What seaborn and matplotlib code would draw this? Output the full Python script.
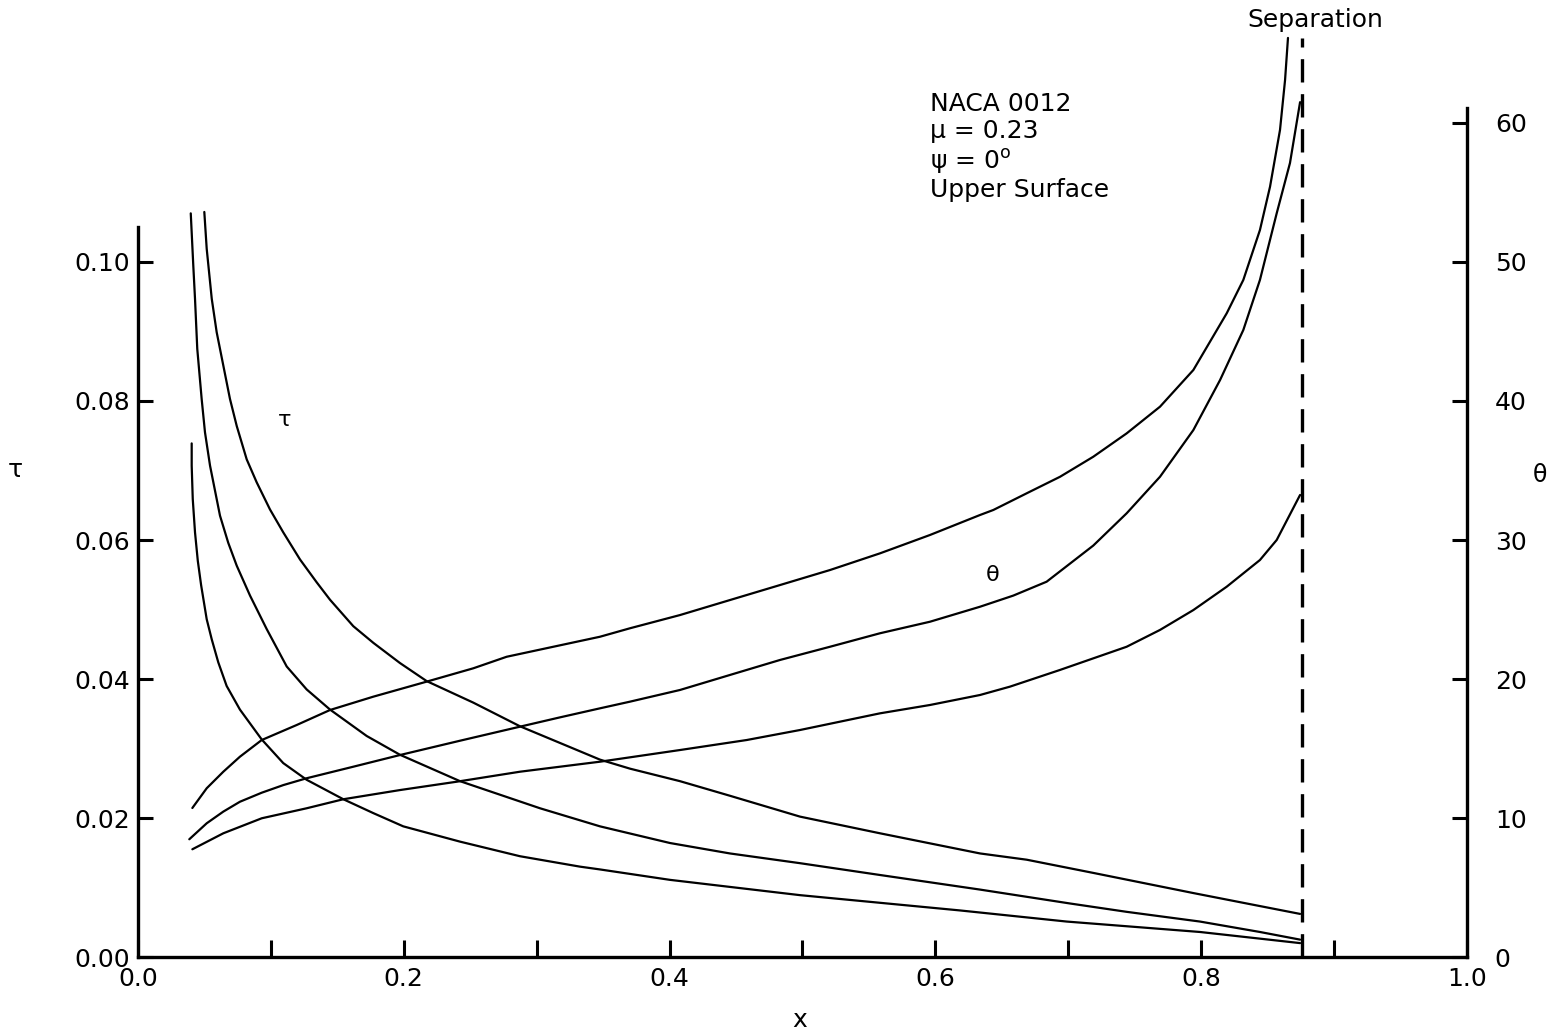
import matplotlib
matplotlib.use("Agg")
import matplotlib.pyplot as plt
from matplotlib.ticker import MultipleLocator, FormatStrFormatter
import pandas as pd
import seaborn as sns

# ---------------- data ----------------
tau1_x = [0.0404, 0.0404, 0.0412, 0.0429, 0.0450, 0.0475, 0.0517, 0.0555, 0.0604, 0.0667,
          0.0767, 0.0931, 0.1093, 0.1269, 0.1545, 0.1771, 0.1996, 0.2423, 0.2874, 0.3326,
          0.3476, 0.4003, 0.4981, 0.6185, 0.6336, 0.6988, 0.7991, 0.8744]
tau1_y = [0.0739, 0.0707, 0.0659, 0.0611, 0.0570, 0.0535, 0.0486, 0.0457, 0.0424, 0.0390,
          0.0356, 0.0313, 0.0279, 0.0255, 0.0227, 0.0207, 0.0188, 0.0166, 0.0145, 0.0130,
          0.0126, 0.0111, 0.0089, 0.0067, 0.0064, 0.0051, 0.0036, 0.0020]

tau2_x = [0.0397, 0.0416, 0.0429, 0.0446, 0.0479, 0.0504, 0.0542, 0.0617, 0.0679, 0.0743,
          0.0843, 0.0968, 0.1119, 0.1269, 0.1445, 0.1721, 0.1971, 0.2423, 0.3025, 0.3476,
          0.4003, 0.4454, 0.4981, 0.5583, 0.6336, 0.7013, 0.7439, 0.7991, 0.8442, 0.8744]
tau2_y = [0.1070, 0.0995, 0.0947, 0.0875, 0.0803, 0.0755, 0.0707, 0.0635, 0.0596, 0.0563,
          0.0520, 0.0472, 0.0418, 0.0385, 0.0356, 0.0318, 0.0291, 0.0253, 0.0214, 0.0188,
          0.0164, 0.0149, 0.0135, 0.0118, 0.0097, 0.0077, 0.0065, 0.0051, 0.0036, 0.0025]

tau3_x = [0.0499, 0.0517, 0.0555, 0.0592, 0.0642, 0.0692, 0.0743, 0.0818, 0.0893, 0.0993,
          0.1093, 0.1219, 0.1345, 0.1445, 0.1620, 0.1771, 0.1971, 0.2172, 0.2523, 0.2874,
          0.3175, 0.3476, 0.3702, 0.4078, 0.4454, 0.4981, 0.5583, 0.6336, 0.6687, 0.7188,
          0.7941, 0.8744]
tau3_y = [0.1072, 0.1019, 0.0947, 0.0899, 0.0851, 0.0803, 0.0764, 0.0716, 0.0683, 0.0644,
          0.0611, 0.0572, 0.0539, 0.0514, 0.0476, 0.0452, 0.0423, 0.0397, 0.0366, 0.0332,
          0.0308, 0.0284, 0.0271, 0.0253, 0.0232, 0.0202, 0.0178, 0.0149, 0.0140, 0.0121,
          0.0092, 0.0062]

theta1_x = [0.0409, 0.0517, 0.0642, 0.0767, 0.0931, 0.1194, 0.1445, 0.1771, 0.2172, 0.2523,
            0.2774, 0.3125, 0.3476, 0.3702, 0.4078, 0.4454, 0.4831, 0.5207, 0.5583, 0.5959,
            0.6336, 0.6436, 0.6687, 0.6938, 0.7188, 0.7439, 0.7690, 0.7941, 0.8192, 0.8317,
            0.8442, 0.8518, 0.8593, 0.8631, 0.8653]
theta1_y = [10.72, 12.14, 13.33, 14.41, 15.61, 16.69, 17.77, 18.73, 19.81, 20.77,
            21.60, 22.32, 23.04, 23.65, 24.60, 25.68, 26.76, 27.84, 29.04, 30.36,
            31.80, 32.16, 33.36, 34.55, 35.99, 37.67, 39.59, 42.23, 46.31, 48.71,
            52.30, 55.42, 59.50, 63.09, 66.12]

theta2_x = [0.0386, 0.0517, 0.0642, 0.0767, 0.0931, 0.1094, 0.1269, 0.1620, 0.1971, 0.2423,
            0.2874, 0.3175, 0.3476, 0.3702, 0.4078, 0.4454, 0.4831, 0.5207, 0.5583, 0.5959,
            0.6336, 0.6586, 0.6837, 0.7188, 0.7439, 0.7690, 0.7941, 0.8142, 0.8317, 0.8442,
            0.8568, 0.8668, 0.8744]
theta2_y = [8.47, 9.62, 10.46, 11.17, 11.82, 12.37, 12.86, 13.69, 14.53, 15.56,
            16.57, 17.24, 17.89, 18.37, 19.21, 20.29, 21.37, 22.32, 23.29, 24.12,
            25.20, 26.00, 27.00, 29.60, 31.92, 34.55, 37.91, 41.51, 45.11, 48.71,
            53.50, 57.12, 61.50]

theta3_x = [0.0409, 0.0642, 0.0931, 0.1269, 0.1545, 0.1971, 0.2398, 0.2874, 0.3476, 0.4078,
            0.4580, 0.4981, 0.5583, 0.5959, 0.6336, 0.6561, 0.6937, 0.7439, 0.7690, 0.7941,
            0.8192, 0.8442, 0.8568, 0.8744]
theta3_y = [7.75, 8.90, 9.98, 10.70, 11.35, 12.01, 12.61, 13.33, 14.05, 14.89,
            15.61, 16.33, 17.53, 18.13, 18.85, 19.45, 20.65, 22.32, 23.53, 24.96,
            26.64, 28.56, 30.00, 33.24]

separation_x = 0.876
separation_top = 66.1

x_ticks = [0.0, 0.2, 0.4, 0.6, 0.8, 1.0]
tau_ticks = [0.00, 0.02, 0.04, 0.06, 0.08, 0.10]
theta_ticks = [0, 10, 20, 30, 40, 50, 60]

info_text = "NACA 0012\nμ = 0.23\nψ = 0$^{\\mathrm{o}}$\nUpper Surface"

# ---------------- build long-form frames ----------------
tau_df = pd.concat([
    pd.DataFrame({"x": tau1_x, "tau": tau1_y, "curve": "t1"}),
    pd.DataFrame({"x": tau2_x, "tau": tau2_y, "curve": "t2"}),
    pd.DataFrame({"x": tau3_x, "tau": tau3_y, "curve": "t3"}),
], ignore_index=True)
theta_df = pd.concat([
    pd.DataFrame({"x": theta1_x, "theta": theta1_y, "curve": "h1"}),
    pd.DataFrame({"x": theta2_x, "theta": theta2_y, "curve": "h2"}),
    pd.DataFrame({"x": theta3_x, "theta": theta3_y, "curve": "h3"}),
], ignore_index=True)

# ---------------- style ----------------
sns.set_theme(style="ticks")
plt.rcParams["font.family"] = ["DejaVu Sans"]
plt.rcParams["axes.edgecolor"] = "black"
plt.rcParams["text.color"] = "black"
plt.rcParams["axes.labelcolor"] = "black"
plt.rcParams["xtick.color"] = "black"
plt.rcParams["ytick.color"] = "black"
plt.rcParams["lines.solid_joinstyle"] = "round"

fig = plt.figure(figsize=(15.5, 10.32), dpi=100)
ax = fig.add_axes([0.08903, 0.07267, 0.85742, 0.9159])
ax2 = ax.twinx()

THETA_TOP = 68.0
TAU_PER_THETA = 1.0 / 500.0

sns.lineplot(data=tau_df, x="x", y="tau", units="curve", estimator=None, sort=False,
             color="black", linewidth=1.6, ax=ax, legend=False)
sns.lineplot(data=theta_df, x="x", y="theta", units="curve", estimator=None, sort=False,
             color="black", linewidth=1.6, ax=ax2, legend=False)

ax2.plot([separation_x, separation_x], [0, separation_top], color="black",
         linewidth=2.4, dashes=(7, 3.5))

ax.set_xlim(0, 1.0)
ax.set_ylim(0, THETA_TOP * TAU_PER_THETA)
ax2.set_ylim(0, THETA_TOP)

# spines
ax.spines["top"].set_visible(False)
ax.spines["right"].set_visible(False)
ax2.spines["top"].set_visible(False)
ax2.spines["left"].set_visible(False)
ax2.spines["bottom"].set_visible(False)
ax.spines["left"].set_bounds(0, 0.105)
ax2.spines["right"].set_bounds(0, 61.1)
for sp in ["left", "bottom"]:
    ax.spines[sp].set_linewidth(2.4)
    ax.spines[sp].set_color("black")
ax2.spines["right"].set_linewidth(2.4)
ax2.spines["right"].set_color("black")

# ticks
ax.set_xticks(x_ticks)
ax.xaxis.set_major_formatter(FormatStrFormatter("%.1f"))
ax.xaxis.set_minor_locator(MultipleLocator(0.1))
ax.set_yticks(tau_ticks)
ax.yaxis.set_major_formatter(FormatStrFormatter("%.2f"))
ax2.set_yticks(theta_ticks)

ax.tick_params(axis="x", which="both", direction="in", length=12, width=2.2,
               labelsize=18, pad=7, colors="black")
ax.tick_params(axis="y", which="both", direction="in", length=11, width=2.2,
               labelsize=18, pad=6, colors="black")
ax2.tick_params(axis="y", which="both", direction="in", length=11, width=2.2,
                labelsize=18, pad=20, colors="black")

# axis labels
ax.set_xlabel("x", fontsize=18, ha="center", va="center")
ax.xaxis.set_label_coords(0.498, -0.067)
ax.set_ylabel("τ", fontsize=18, rotation=0, ha="center", va="center")
ax.yaxis.set_label_coords(-0.0926, 0.515)
ax2.set_ylabel("θ", fontsize=17, rotation=0, ha="center", va="center")
ax2.yaxis.set_label_coords(1.055, 0.51)

# annotations
ax2.text(0.596, 62.2, info_text, fontsize=18, ha="left", va="top", linespacing=1.15,
         color="black")
ax2.text(0.8856, 67.4, "Separation", fontsize=18, ha="center", va="center", color="black")
ax2.text(0.1106, 38.6, "τ", fontsize=16, ha="center", va="center", color="black")
ax2.text(0.643, 27.5, "θ", fontsize=16, ha="center", va="center", color="black")

ax.grid(False)
ax2.grid(False)
fig.patch.set_facecolor("white")
fig.savefig("out.png", dpi=100, facecolor="white")
